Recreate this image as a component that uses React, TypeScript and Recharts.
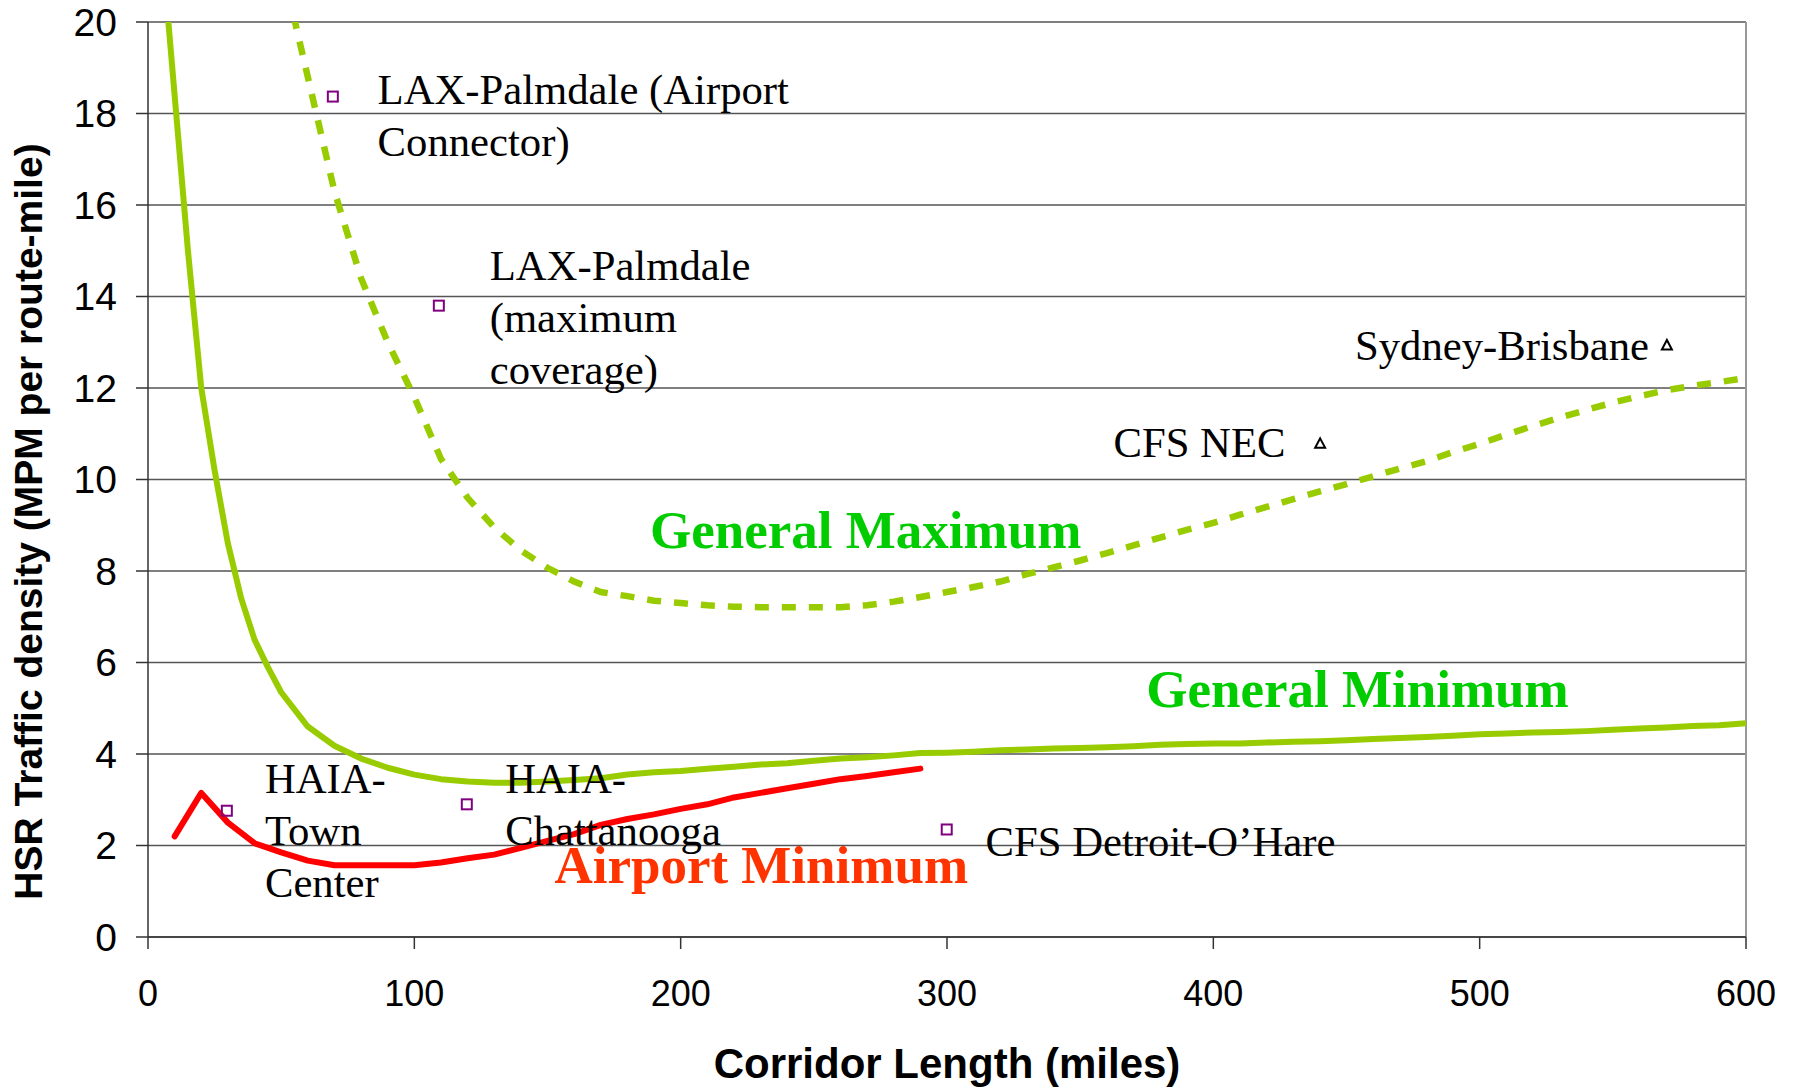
import {
  CartesianGrid,
  ComposedChart,
  Label,
  Line,
  ReferenceDot,
  ReferenceLine,
  Scatter,
  XAxis,
  YAxis,
} from "recharts";

// corridor length (miles) vs traffic density (MPM per route-mile)
const generalMinimum = [
  { x: 5, y: 21.8 }, { x: 10, y: 18.4 }, { x: 15, y: 15.0 }, { x: 20, y: 12.0 },
  { x: 25, y: 10.2 }, { x: 30, y: 8.6 }, { x: 35, y: 7.4 }, { x: 40, y: 6.5 },
  { x: 45, y: 5.9 }, { x: 50, y: 5.35 }, { x: 60, y: 4.6 }, { x: 70, y: 4.18 },
  { x: 80, y: 3.9 }, { x: 90, y: 3.7 }, { x: 100, y: 3.55 }, { x: 110, y: 3.45 },
  { x: 120, y: 3.4 }, { x: 130, y: 3.37 }, { x: 140, y: 3.37 }, { x: 150, y: 3.4 },
  { x: 160, y: 3.43 }, { x: 170, y: 3.47 }, { x: 180, y: 3.55 }, { x: 190, y: 3.6 },
  { x: 200, y: 3.63 }, { x: 210, y: 3.68 }, { x: 220, y: 3.72 }, { x: 230, y: 3.77 },
  { x: 240, y: 3.8 }, { x: 250, y: 3.85 }, { x: 260, y: 3.9 }, { x: 270, y: 3.93 },
  { x: 280, y: 3.97 }, { x: 290, y: 4.02 }, { x: 300, y: 4.03 }, { x: 310, y: 4.05 },
  { x: 320, y: 4.08 }, { x: 330, y: 4.1 }, { x: 340, y: 4.12 }, { x: 350, y: 4.13 },
  { x: 360, y: 4.15 }, { x: 370, y: 4.17 }, { x: 380, y: 4.2 }, { x: 390, y: 4.22 },
  { x: 400, y: 4.23 }, { x: 410, y: 4.23 }, { x: 420, y: 4.25 }, { x: 430, y: 4.27 },
  { x: 440, y: 4.28 }, { x: 450, y: 4.3 }, { x: 460, y: 4.33 }, { x: 470, y: 4.35 },
  { x: 480, y: 4.37 }, { x: 490, y: 4.4 }, { x: 500, y: 4.43 }, { x: 510, y: 4.45 },
  { x: 520, y: 4.47 }, { x: 530, y: 4.48 }, { x: 540, y: 4.5 }, { x: 550, y: 4.53 },
  { x: 560, y: 4.56 }, { x: 570, y: 4.58 }, { x: 580, y: 4.61 }, { x: 590, y: 4.63 },
  { x: 600, y: 4.67 },
];

const generalMaximum = [
  { x: 50, y: 21.3 }, { x: 60, y: 18.8 }, { x: 70, y: 16.3 }, { x: 80, y: 14.4 },
  { x: 90, y: 13.0 }, { x: 100, y: 11.8 }, { x: 110, y: 10.45 }, { x: 120, y: 9.6 },
  { x: 130, y: 8.95 }, { x: 140, y: 8.45 }, { x: 150, y: 8.07 }, { x: 160, y: 7.77 },
  { x: 170, y: 7.54 }, { x: 180, y: 7.45 }, { x: 190, y: 7.35 }, { x: 200, y: 7.3 },
  { x: 210, y: 7.25 }, { x: 220, y: 7.22 }, { x: 230, y: 7.21 }, { x: 240, y: 7.21 },
  { x: 250, y: 7.21 }, { x: 260, y: 7.21 }, { x: 270, y: 7.25 }, { x: 280, y: 7.33 },
  { x: 290, y: 7.43 }, { x: 300, y: 7.54 }, { x: 310, y: 7.65 }, { x: 320, y: 7.77 },
  { x: 330, y: 7.93 }, { x: 340, y: 8.08 }, { x: 350, y: 8.23 }, { x: 360, y: 8.39 },
  { x: 370, y: 8.56 }, { x: 380, y: 8.73 }, { x: 390, y: 8.9 }, { x: 400, y: 9.05 },
  { x: 410, y: 9.23 }, { x: 420, y: 9.4 }, { x: 430, y: 9.57 }, { x: 440, y: 9.74 },
  { x: 450, y: 9.9 }, { x: 460, y: 10.07 }, { x: 470, y: 10.24 }, { x: 480, y: 10.4 },
  { x: 490, y: 10.6 }, { x: 500, y: 10.78 }, { x: 510, y: 10.98 }, { x: 520, y: 11.17 },
  { x: 530, y: 11.35 }, { x: 540, y: 11.52 }, { x: 550, y: 11.68 }, { x: 560, y: 11.82 },
  { x: 570, y: 11.95 }, { x: 580, y: 12.05 }, { x: 590, y: 12.13 }, { x: 600, y: 12.22 },
];

const airportMinimum = [
  { x: 10, y: 2.2 }, { x: 20, y: 3.15 }, { x: 30, y: 2.5 }, { x: 40, y: 2.05 },
  { x: 50, y: 1.85 }, { x: 60, y: 1.67 }, { x: 70, y: 1.57 }, { x: 80, y: 1.57 },
  { x: 90, y: 1.57 }, { x: 100, y: 1.57 }, { x: 110, y: 1.63 }, { x: 120, y: 1.72 },
  { x: 130, y: 1.8 }, { x: 140, y: 1.95 }, { x: 150, y: 2.1 }, { x: 160, y: 2.25 },
  { x: 170, y: 2.45 }, { x: 180, y: 2.58 }, { x: 190, y: 2.68 }, { x: 200, y: 2.8 },
  { x: 210, y: 2.9 }, { x: 220, y: 3.05 }, { x: 230, y: 3.15 }, { x: 240, y: 3.25 },
  { x: 250, y: 3.35 }, { x: 260, y: 3.45 }, { x: 270, y: 3.52 }, { x: 280, y: 3.6 },
  { x: 290, y: 3.68 },
];

const usCorridors = [
  { x: 69.4, y: 18.37 }, // LAX-Palmdale (Airport Connector)
  { x: 109.2, y: 13.8 }, // LAX-Palmdale (maximum coverage)
  { x: 29.6, y: 2.76 }, // HAIA-Town Center
  { x: 119.7, y: 2.9 }, // HAIA-Chattanooga
  { x: 299.9, y: 2.35 }, // CFS Detroit-O'Hare
];

const foreignCorridors = [
  { x: 440.1, y: 10.79 }, // CFS NEC
  { x: 570.3, y: 12.94 }, // Sydney-Brisbane
];

const xTicks = [0, 100, 200, 300, 400, 500, 600];
const yTicks = [0, 2, 4, 6, 8, 10, 12, 14, 16, 18, 20];

// text notes, anchored at data coordinates (left edge, first baseline)
const pointNotes = [
  { x: 86.2, y: 18.21, lines: ["LAX-Palmdale (Airport", "Connector)"] },
  { x: 128.3, y: 14.35, lines: ["LAX-Palmdale", "(maximum", "coverage)"] },
  { x: 43.9, y: 3.14, lines: ["HAIA-", "Town", "Center"] },
  { x: 134.1, y: 3.14, lines: ["HAIA-", "Chattanooga"] },
  { x: 314.5, y: 1.76, lines: ["CFS Detroit-O\u2019Hare"] },
  { x: 362.5, y: 10.5, lines: ["CFS NEC"] },
  { x: 453.2, y: 12.61, lines: ["Sydney-Brisbane"] },
];

const curveNotes = [
  { x: 188.5, y: 8.5, text: "General Maximum", color: "#00cc00" },
  { x: 374.8, y: 5.03, text: "General Minimum", color: "#00cc00" },
  { x: 152.6, y: 1.19, text: "Airport Minimum", color: "#ff3300" },
];

const SANS = "'Liberation Sans', Arial, sans-serif";
const SERIF = "'Liberation Serif', 'Times New Roman', serif";

const noteShape = (lines: string[]) => (p: any) => (
  <text
    x={p.cx}
    y={p.cy}
    fontFamily={SERIF}
    fontSize={42.7}
    fill="#000"
  >
    {lines.map((l, i) => (
      <tspan key={i} x={p.cx} dy={i === 0 ? 0 : 52}>
        {l}
      </tspan>
    ))}
  </text>
);

const curveShape = (text: string, color: string) => (p: any) => (
  <text
    x={p.cx}
    y={p.cy}
    fontFamily={SERIF}
    fontSize={53}
    fontWeight="bold"
    fill={color}
  >
    {text}
  </text>
);

const square = (p: any) => (
  <rect
    x={p.cx - 5}
    y={p.cy - 5}
    width={10}
    height={10}
    fill="none"
    stroke="#800080"
    strokeWidth={2}
  />
);

const triangle = (p: any) => (
  <path
    d={`M${p.cx},${p.cy - 5} L${p.cx + 5},${p.cy + 4.5} L${p.cx - 5},${p.cy + 4.5} Z`}
    fill="none"
    stroke="#000"
    strokeWidth={2}
  />
);

export default function App() {
  return (
    <div style={{ position: "absolute", left: 0, top: 0, background: "#fff" }}>
      <ComposedChart
        width={1795}
        height={1087}
        margin={{ top: 22, right: 49, bottom: 0, left: 0 }}
      >
        <CartesianGrid vertical={false} stroke="#555" strokeWidth={1.3} />
        <XAxis
          type="number"
          dataKey="x"
          domain={[0, 600]}
          ticks={xTicks}
          height={150}
          tickSize={12}
          tickMargin={31}
          interval={0}
          stroke="#333"
          strokeWidth={1.5}
          tick={{ fill: "#000", fontSize: 36, fontFamily: SANS }}
        >
          <Label
            content={(props: any) => {
              const vb = props.viewBox || { x: 148, y: 937, width: 1598 };
              return (
                <text
                  x={vb.x + vb.width / 2}
                  y={vb.y + 141}
                  textAnchor="middle"
                  fontFamily={SANS}
                  fontWeight="bold"
                  fontSize={42}
                  fill="#000"
                >
                  Corridor Length (miles)
                </text>
              );
            }}
          />
        </XAxis>
        <YAxis
          type="number"
          domain={[0, 20]}
          ticks={yTicks}
          allowDataOverflow
          width={148}
          tickSize={12}
          tickMargin={19}
          interval={0}
          stroke="#333"
          strokeWidth={1.5}
          tick={{ fill: "#000", fontSize: 39, fontFamily: SANS }}
        >
          <Label
            content={(props: any) => {
              const vb = props.viewBox || { x: 0, y: 22, height: 915 };
              const cx = vb.x + 28;
              const cy = vb.y + vb.height / 2 + 42;
              return (
                <text
                  x={cx}
                  y={cy}
                  transform={`rotate(-90, ${cx}, ${cy})`}
                  textAnchor="middle"
                  dominantBaseline="central"
                  fontFamily={SANS}
                  fontWeight="bold"
                  fontSize={39}
                  fill="#000"
                >
                  HSR Traffic density (MPM per route-mile)
                </text>
              );
            }}
          />
        </YAxis>
        <ReferenceLine x={600} stroke="#999" strokeWidth={2} />

        <Line
          data={generalMaximum}
          dataKey="y"
          type="linear"
          stroke="#99cc00"
          strokeWidth={6.5}
          strokeDasharray="14 13"
          dot={false}
          activeDot={false}
          isAnimationActive={false}
        />
        <Line
          data={generalMinimum}
          dataKey="y"
          type="linear"
          stroke="#99cc00"
          strokeWidth={6}
          strokeLinejoin="round"
          dot={false}
          activeDot={false}
          isAnimationActive={false}
        />
        <Line
          data={airportMinimum}
          dataKey="y"
          type="linear"
          stroke="#ff0000"
          strokeWidth={6}
          strokeLinejoin="round"
          strokeLinecap="round"
          dot={false}
          activeDot={false}
          isAnimationActive={false}
        />
        <Scatter
          data={usCorridors}
          dataKey="y"
          shape={square}
          isAnimationActive={false}
        />
        <Scatter
          data={foreignCorridors}
          dataKey="y"
          shape={triangle}
          isAnimationActive={false}
        />

        {pointNotes.map((n, i) => (
          <ReferenceDot
            key={`n${i}`}
            x={n.x}
            y={n.y}
            r={0}
            shape={noteShape(n.lines)}
          />
        ))}
        {curveNotes.map((n, i) => (
          <ReferenceDot
            key={`c${i}`}
            x={n.x}
            y={n.y}
            r={0}
            shape={curveShape(n.text, n.color)}
          />
        ))}
      </ComposedChart>
    </div>
  );
}
